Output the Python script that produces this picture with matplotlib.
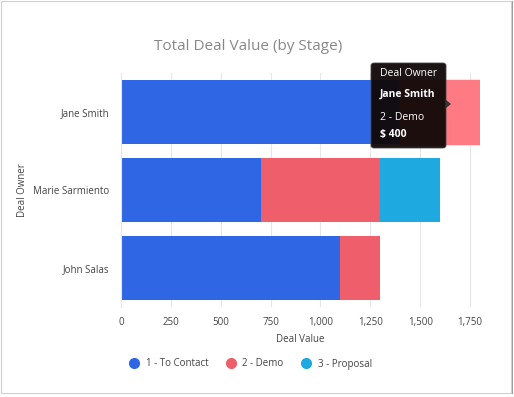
import matplotlib.pyplot as plt
from matplotlib.patches import Rectangle, FancyBboxPatch, Polygon
from matplotlib.lines import Line2D

owners = ['Jane Smith', 'Marie Sarmiento', 'John Salas']
stages = ['1 - To Contact', '2 - Demo', '3 - Proposal']
to_contact = [1400, 700, 1100]
demo = [400, 600, 200]
proposal = [0, 300, 0]
colors = ['#2f66e3', '#ef5f6b', '#1ea9e1']
xticks = [0, 250, 500, 750, 1000, 1250, 1500, 1750]

plt.rcParams['font.family'] = ['Open Sans', 'DejaVu Sans']

fig = plt.figure(figsize=(5.14, 3.97), dpi=100)
fig.patch.set_facecolor('white')

# card frame with a little shadow
fig.patches.append(Rectangle((2 / 514, 3 / 397), 511 / 514, 393 / 397, transform=fig.transFigure,
                             facecolor='#9a9a9a', edgecolor='none', zorder=-2))
fig.patches.append(Rectangle((1 / 514, 4 / 397), 510 / 514, 392 / 397, transform=fig.transFigure,
                             facecolor='white', edgecolor='#d0d0d0', lw=0.8, zorder=-1))

ax = fig.add_axes([121 / 514, 1 - 307 / 397, 359 / 514, 234 / 397])
ax.set_facecolor('none')
ax.set_zorder(1)

y = list(range(len(owners)))
left = [0] * len(owners)
for vals, col, name in zip([to_contact, demo, proposal], colors, stages):
    ax.barh(y, vals, left=left, height=0.83, color=col, label=name, zorder=2)
    left = [a + b for a, b in zip(left, vals)]

# hovered segment is lighter
ax.containers[1][0].set_color('#ff7a82')

ax.set_xlim(0, 1800)
ax.set_ylim(len(owners) - 0.5, -0.5)
ax.set_xticks(xticks)
ax.set_xticklabels([f'{v:,}' for v in xticks])
ax.set_yticks(y)
ax.set_yticklabels(owners)
ax.grid(axis='x', color='#e6e6e6', lw=0.8, zorder=0)
for s in ['top', 'right', 'bottom']:
    ax.spines[s].set_visible(False)
ax.spines['left'].set_color('#e0e6f0')
ax.tick_params(axis='both', length=0, labelsize=7, labelcolor='#444444')
ax.tick_params(axis='x', pad=7.5)
ax.tick_params(axis='y', pad=8.5)
ax.set_xlabel('Deal Value', fontsize=7, color='#444444', labelpad=4)
ax.set_ylabel('Deal Owner', fontsize=7, color='#444444')
ax.yaxis.set_label_coords(-0.26, 0.5)

fig.text(248 / 514, 1 - 47 / 397, 'Total Deal Value (by Stage)', ha='center', va='center',
         fontsize=11, color='#888888')

handles = [Line2D([], [], marker='o', ls='none', markersize=7, color=c) for c in colors]
fig.legend(handles, stages, loc='center', bbox_to_anchor=(248 / 514, 1 - 364 / 397), ncol=3,
           frameon=False, fontsize=7, labelcolor='#444444', handletextpad=0.2,
           columnspacing=1.3)

# tooltip
tip = FancyBboxPatch((371 / 514, 1 - 148 / 397), 75 / 514, 85 / 397, transform=fig.transFigure,
                     boxstyle='round,pad=0,rounding_size=0.006', facecolor='#110808',
                     edgecolor='#444444', lw=0.6, alpha=0.95, zorder=5)
fig.patches.append(tip)
fig.patches.append(Polygon([(446 / 514, 1 - 100 / 397), (451 / 514, 1 - 104 / 397),
                            (446 / 514, 1 - 108 / 397)], closed=True, transform=fig.transFigure,
                           facecolor='#333333', edgecolor='none', zorder=5))
tx = 380 / 514
fig.text(tx, 1 - 74 / 397, 'Deal Owner', color='white', fontsize=7.5, va='center', zorder=6)
fig.text(tx, 1 - 94 / 397, 'Jane Smith', color='white', fontsize=7.5, fontweight='bold',
         va='center', zorder=6)
fig.text(tx, 1 - 118 / 397, '2 - Demo', color='white', fontsize=7.5, va='center', zorder=6)
fig.text(tx, 1 - 134 / 397, '$ 400', color='white', fontsize=7.5, fontweight='bold',
         va='center', zorder=6)

fig.savefig('out.png', dpi=100)
